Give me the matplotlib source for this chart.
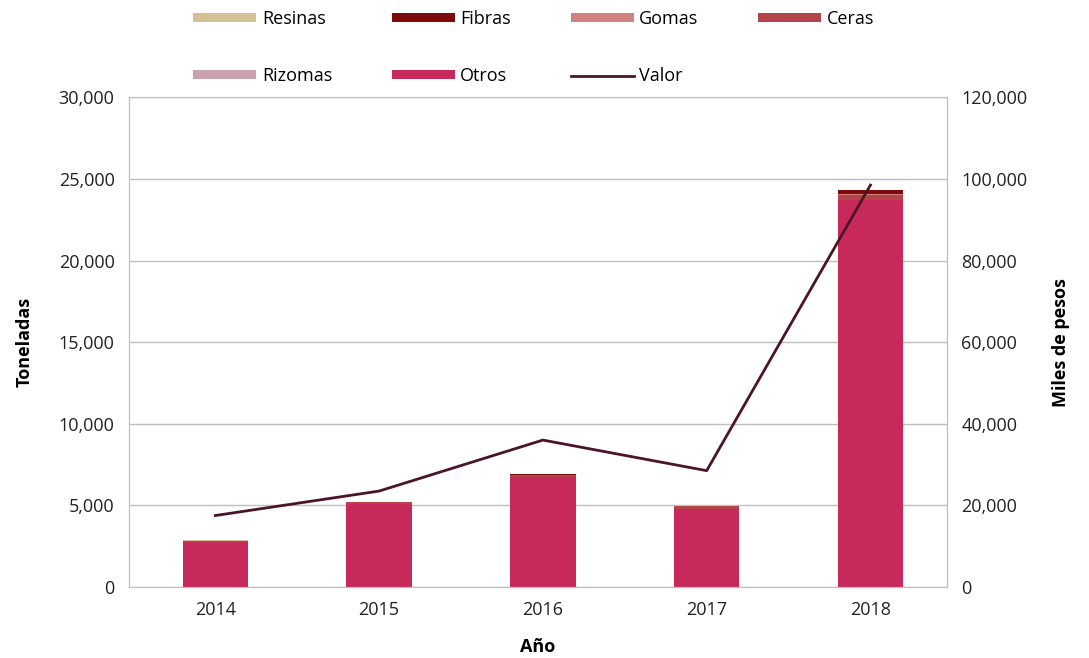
import matplotlib.pyplot as plt
import numpy as np
from matplotlib.ticker import FuncFormatter

plt.rcParams['font.family'] = ['Open Sans', 'DejaVu Sans']

anios = ['2014', '2015', '2016', '2017', '2018']
otros = [2750, 5100, 6750, 4800, 23700]
ceras = [80, 80, 100, 180, 300]
gomas = [10, 10, 20, 10, 50]
resinas = [10, 10, 20, 10, 20]
rizomas = [0, 0, 0, 0, 0]
fibras = [20, 20, 30, 20, 250]
valor = [17500, 23500, 36000, 28500, 98500]

colores = {
    'Otros': '#C72A5A',
    'Ceras': '#B3454A',
    'Gomas': '#D08282',
    'Resinas': '#D6C095',
    'Rizomas': '#C9A2AE',
    'Fibras': '#7E0A0A',
}

fig, ax = plt.subplots(figsize=(10.89, 6.58), dpi=100)
fig.subplots_adjust(left=0.118, right=0.87, top=0.852, bottom=0.108)

x = np.arange(len(anios))
ancho = 0.4
base = np.zeros(len(anios))
barras = {}
for nombre, datos in [('Otros', otros), ('Ceras', ceras), ('Gomas', gomas),
                      ('Resinas', resinas), ('Rizomas', rizomas), ('Fibras', fibras)]:
    barras[nombre] = ax.bar(x + 0.03, datos, ancho, bottom=base, color=colores[nombre], label=nombre, zorder=2)
    base = base + np.array(datos)

ax.set_ylim(0, 30000)
ax.set_xlim(-0.5, 4.5)
ax.set_yticks(np.arange(0, 30001, 5000))
ax.yaxis.set_major_formatter(FuncFormatter(lambda v, p: f'{int(v):,}'))
ax.set_xticks(x + 0.03)
ax.set_xticklabels(anios)
ax.grid(axis='y', color='#BFBFBF', linewidth=1, zorder=0)
ax.set_axisbelow(True)
for s in ax.spines.values():
    s.set_color('#BFBFBF')
ax.tick_params(axis='both', length=0, labelsize=13, colors='#222222', pad=10)
ax.set_ylabel('Toneladas', fontsize=13, fontweight='bold', labelpad=18)
ax.set_xlabel('Año', fontsize=13, fontweight='bold', labelpad=14)

ax2 = ax.twinx()
linea, = ax2.plot(x + 0.03, valor, color='#4A1526', linewidth=2, label='Valor', zorder=3)
ax2.set_ylim(0, 120000)
ax2.set_yticks(np.arange(0, 120001, 20000))
ax2.yaxis.set_major_formatter(FuncFormatter(lambda v, p: f'{int(v):,}'))
ax2.tick_params(axis='y', length=0, labelsize=13, colors='#222222', pad=10)
for s in ax2.spines.values():
    s.set_color('#BFBFBF')
ax2.set_ylabel('Miles de pesos', fontsize=13, fontweight='bold', labelpad=18)

orden = [barras['Resinas'], barras['Rizomas'], barras['Fibras'], barras['Otros'],
         barras['Gomas'], linea, barras['Ceras']]
etiquetas = ['Resinas', 'Rizomas', 'Fibras', 'Otros', 'Gomas', 'Valor', 'Ceras']
fig.legend(orden, etiquetas, ncol=4, loc='upper center', bbox_to_anchor=(0.49, 1.01),
           frameon=False, fontsize=13, handlelength=3.5, handleheight=0.4,
           columnspacing=3.3, labelspacing=2.2, handletextpad=0.3)

fig.savefig('out.png', dpi=100)
